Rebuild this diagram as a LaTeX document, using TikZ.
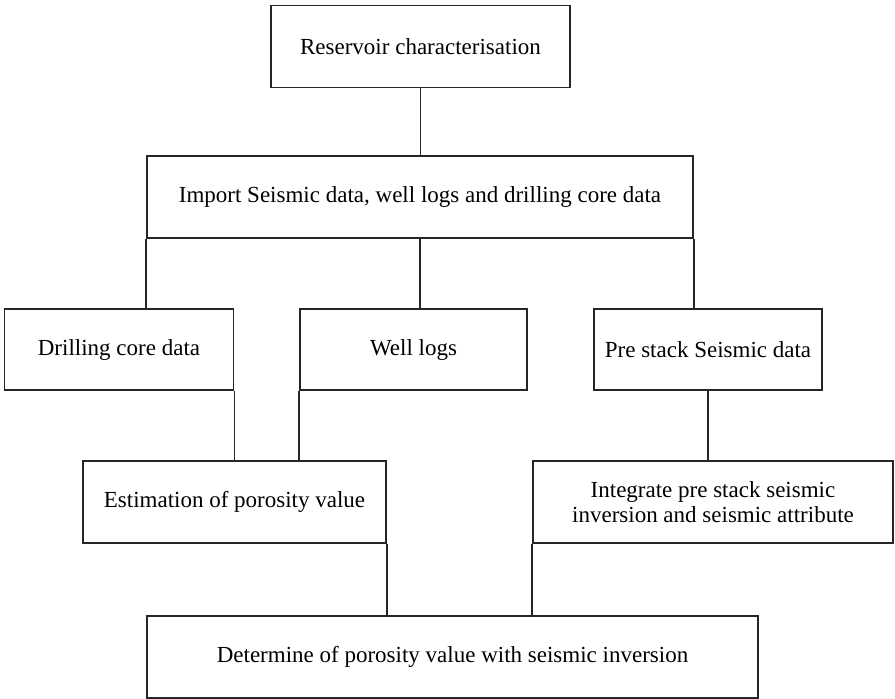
\documentclass[tikz,border=0pt]{standalone}
\usepackage{fontspec}
\setmainfont{Liberation Serif}
\begin{document}
\begin{tikzpicture}[x=1pt,y=-1pt,
  box/.style={draw=black!85,line width=1.6pt,inner sep=0pt,align=center,font=\fontsize{23}{24.5}\selectfont},
  conn/.style={draw=black!85,line width=1.6pt}]
\useasboundingbox (0,0) rectangle (895,699);
\node[box,minimum width=299pt,minimum height=82pt] (b1) at (420.5,46.5) {Reservoir characterisation};
\node[box,minimum width=546pt,minimum height=82pt] (b2) at (420,197) {Import Seismic data, well logs and drilling core data};
\node[box,minimum width=229pt,minimum height=81pt] (drill) at (119,349.5) {Drilling core data};
\node[box,minimum width=227pt,minimum height=81pt] (well) at (413.5,349.5) {Well logs};
\node[box,minimum width=228pt,minimum height=81pt] (pre) at (708,349.5) {Pre stack Seismic data};
\node[box,minimum width=303pt,minimum height=82pt] (est) at (234.5,502) {Estimation of porosity value};
\node[box,minimum width=360pt,minimum height=82pt] (integ) at (713,502) {Integrate pre stack seismic\\inversion and seismic attribute};
\node[box,minimum width=611pt,minimum height=82pt] (fin) at (452.5,657) {Determine of porosity value with seismic inversion};
\draw[conn] (b1.south) -- (b1.south |- b2.north);
\draw[conn] (b2.south west) -- (b2.south west |- drill.north);
\draw[conn] (b2.south) -- (b2.south |- well.north);
\draw[conn] (b2.south east) -- (b2.south east |- pre.north);
\draw[conn] (drill.south east) -- (drill.south east |- est.north);
\draw[conn] (well.south west) -- (well.south west |- est.north);
\draw[conn] (pre.south) -- (pre.south |- integ.north);
\draw[conn] (est.south east) -- (est.south east |- fin.north);
\draw[conn] (integ.south west) -- (integ.south west |- fin.north);
\end{tikzpicture}
\end{document}
